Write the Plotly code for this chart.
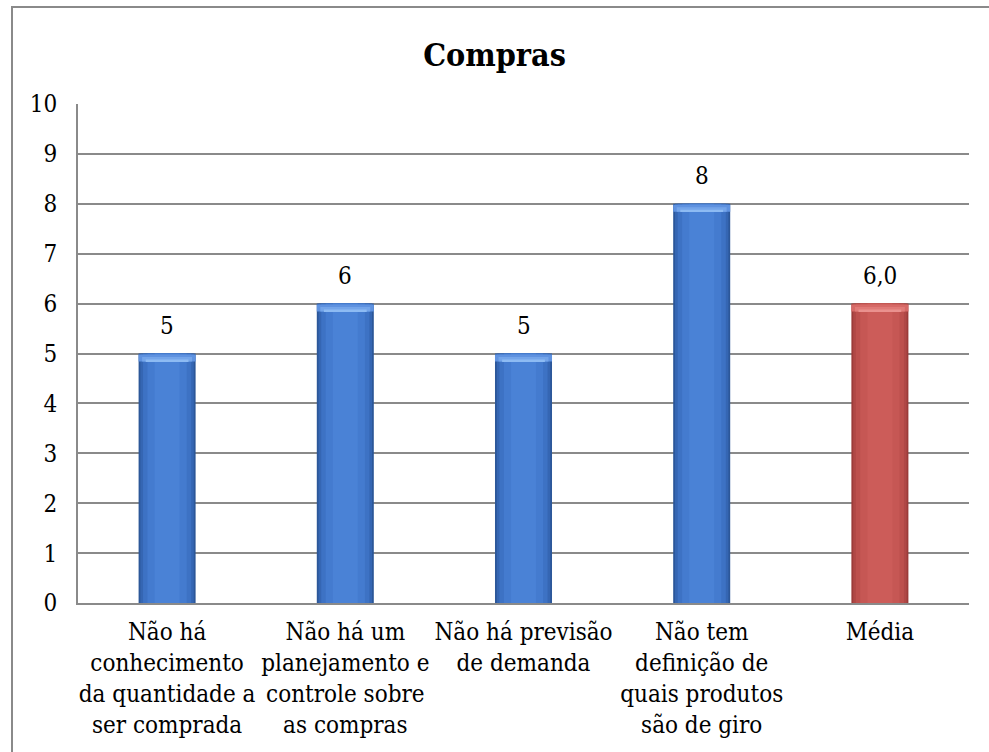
import plotly.graph_objects as go

# Chart data
categories = [
    "Não há<br>conhecimento<br>da quantidade a<br>ser comprada",
    "Não há um<br>planejamento e<br>controle sobre<br>as compras",
    "Não há previsão<br>de demanda",
    "Não tem<br>definição de<br>quais produtos<br>são de giro",
    "Média",
]
values = [5, 6, 5, 8, 6.0]
value_labels = ["5", "6", "5", "8", "6,0"]
y_ticks = list(range(0, 11))

FONT = "DejaVu Serif Condensed, DejaVu Serif"
GRID = "#8a8a8a"

x_pos = list(range(len(categories)))
is_mean = [c == "Média" for c in categories]

# Shading layers (width, blue colour, red colour) from outer edge to centre
layers = [
    (0.32, "#2c5799", "#9c3b39"),
    (0.30, "#3566b3", "#b04846"),
    (0.27, "#3d72c4", "#bd504d"),
    (0.22, "#447bcf", "#c65754"),
    (0.14, "#4a82d6", "#cc5c59"),
]

fig = go.Figure()

for w, blue, red in layers:
    fig.add_trace(go.Bar(
        x=x_pos, y=values, width=w,
        marker=dict(color=[red if m else blue for m in is_mean], line=dict(width=0)),
        hoverinfo="skip", showlegend=False,
    ))

# Bevelled top of each bar
cap_layers = [
    (0.14, 0.32, "#5f92e0", "#d66a67"),
    (0.09, 0.28, "#74a5ea", "#e07a77"),
    (0.04, 0.24, "#8dbbf3", "#ea918e"),
]
for h, w, blue, red in cap_layers:
    fig.add_trace(go.Bar(
        x=x_pos, y=[h] * len(values), base=[v - 0.16 for v in values], width=w,
        marker=dict(color=[red if m else blue for m in is_mean], line=dict(width=0)),
        hoverinfo="skip", showlegend=False,
    ))

# Value labels above the bars
annotations = [
    dict(
        x=x, y=v, xref="x", yref="y", text=t, showarrow=False,
        yanchor="bottom", yshift=12,
        font=dict(family=FONT, size=24, color="#000000"),
    )
    for x, v, t in zip(x_pos, values, value_labels)
]

fig.update_layout(
    width=989, height=752,
    margin=dict(l=78, r=20, t=104, b=149),
    paper_bgcolor="#ffffff", plot_bgcolor="#ffffff",
    barmode="overlay",
    font=dict(family=FONT, size=24, color="#000000"),
    title=dict(
        text="<b>Compras</b>", x=0.5, xanchor="center",
        y=1 - 55 / 752, yanchor="middle",
        font=dict(family=FONT, size=32, color="#000000"),
    ),
    xaxis=dict(
        range=[-0.5, 4.5],
        tickmode="array", tickvals=x_pos, ticktext=categories,
        showgrid=False, zeroline=False,
        showline=True, linecolor=GRID, linewidth=2,
        ticks="", tickangle=0,
        tickfont=dict(family=FONT, size=24, color="#000000"),
        ticklabelstandoff=6, automargin=False,
    ),
    yaxis=dict(
        range=[0, 10],
        tickmode="array", tickvals=y_ticks,
        showgrid=True, gridcolor=GRID, gridwidth=2,
        zeroline=False,
        showline=True, linecolor=GRID, linewidth=2,
        ticks="", tickfont=dict(family=FONT, size=24, color="#000000"),
        ticklabelstandoff=14, automargin=False,
    ),
    annotations=annotations,
    shapes=[
        dict(
            type="rect", xref="paper", yref="paper",
            x0=-66 / 891, x1=1.2, y0=-0.5, y1=(603 - 7) / 499,
            line=dict(color="#8a8a8a", width=2), fillcolor="rgba(0,0,0,0)",
            layer="below",
        )
    ],
)

fig.write_html("out.html")
